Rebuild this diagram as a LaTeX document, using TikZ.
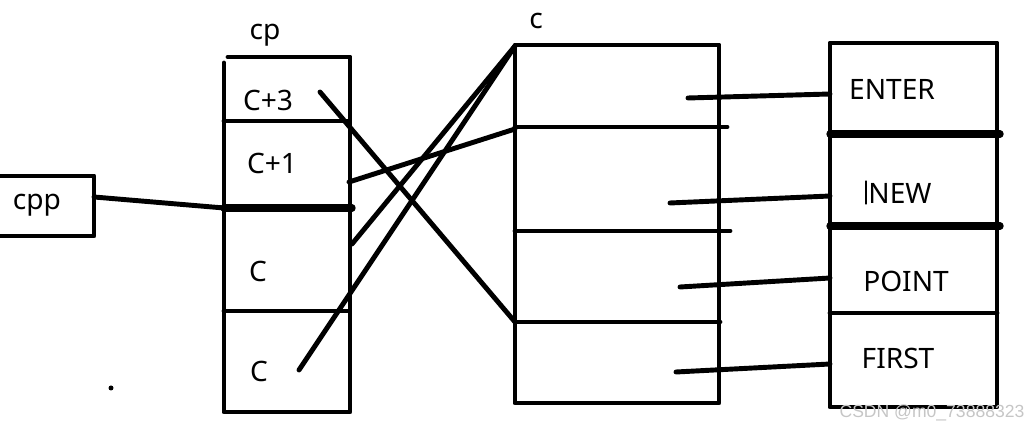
\documentclass[tikz,border=0pt]{standalone}
\usepackage{fontspec}
\setmainfont{Noto Sans}
\newfontfamily\markfont{Liberation Sans}
\begin{document}
\begin{tikzpicture}[x=0.02cm, y=-0.02cm, line join=round, line cap=round, line width=2.8pt,
	lbl/.style={inner sep=0pt, font=\fontsize{16}{19}\selectfont},
	heavy/.style={line width=4.2pt}]
	\useasboundingbox (0,0) rectangle (1035,431);
	\path 	(94,197) coordinate (cppR)
		(224,208) coordinate (cpL)
		(320,92) coordinate (S3)
		(349,182) coordinate (S1)
		(352,244) coordinate (Sa)
		(299,370) coordinate (Sb)
		(515,46) coordinate (T0)
		(515,129) coordinate (T1)
		(515,322) coordinate (T3);
	% cpp
	\draw (-5,176) -- (94,176) -- (94,236) -- (-5,236);
	\node[lbl] (cpp) at (37,205) {cpp};
	\draw (cppR) -- (cpL);
	% cp
	\draw (228,57) -- (350,57) -- (350,412) -- (224,412) -- (224,63);
	\draw (224,121) -- (347,121)
		(224,311) -- (349,311);
	\draw[heavy] (224,208) -- (352,208);
	\node[lbl] (cp) at (265,35) {cp};
	\node[lbl] (cp3) at (268,100) {C+3};
	\node[lbl] (cp1) at (272,163) {C+1};
	\node[lbl] (cpa) at (258,271) {C};
	\node[lbl] (cpb) at (259,371) {C};
	% c
	\draw (515,45) rectangle (719,403);
	\draw (515,127) -- (727,127)
		(515,231) -- (730,231)
		(515,322) -- (720,322);
	\node[lbl] (c) at (536,21) {c};
	% links
	\draw (S3) -- (T3);
	\draw (S1) -- (T1);
	\draw (Sa) -- (T0);
	\draw (Sb) -- (T0);
	% right column
	\draw (830,43) rectangle (997,407);
	\draw[heavy] (830,134) -- (1000,134)
		(830,226) -- (1000,226);
	\draw (830,313) -- (997,313);
	\node[lbl] (enter) at (892,89) {ENTER};
	\node[lbl] (new) at (900,193) {NEW};
	\draw[line width=0.6pt] (866,181) -- (866,204);
	\node[lbl] (point) at (906,281) {POINT};
	\node[lbl] (first) at (898,358) {FIRST};
	\foreach \n/\xa/\ya/\yb in {1/688/98/94,2/670/203/196,3/680/287/278,4/676/372/364}
	{
		\path (\xa,\ya) coordinate (L\n) (830,\yb) coordinate (R\n);
		\draw (L\n) -- (R\n);
	}
	\fill (111,388) circle (2.5);
	\node[inner sep=0pt, text=gray!45, font=\markfont\fontsize{10}{12}\selectfont] (mark) at (932,413) {CSDN @m0\_73888323};
\end{tikzpicture}
\end{document}
